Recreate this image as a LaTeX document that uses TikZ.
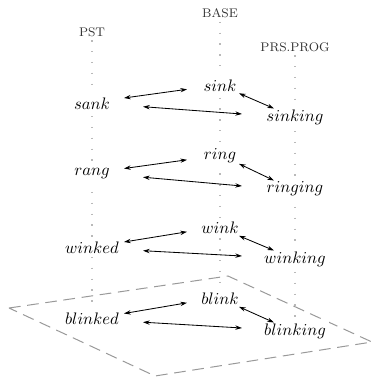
\documentclass[tikz,border=0pt]{standalone}
\usetikzlibrary{calc,arrows.meta,backgrounds}
\tikzset{
  word/.style={fill=white,inner sep=2pt},
  head/.style={font=\fontsize{7.5}{9}\selectfont,text=black!80,inner sep=2pt},
  guide/.style={draw=gray!55,line width=0.8pt,dash pattern=on 0.8pt off 5.7pt},
  plane/.style={draw=gray!80,line width=0.6pt,dash pattern=on 7pt off 4pt},
  link/.style={line width=0.5pt,{Stealth[length=4pt,width=2.6pt]}-{Stealth[length=4pt,width=2.6pt]}}
}
\begin{document}
\begin{tikzpicture}[x=0.6pt,y=-0.6pt]
\useasboundingbox (0,0) rectangle (373,377);

% column headings
\node[head] (pst)  at (92,32)   {PST};
\node[head] (base) at (220,13.5) {BASE};
\node[head] (prs)  at (295,47)  {PRS.PROG};

% the four verb paradigms
\node[word] (sank)     at (92,103.5)  {$sank$};
\node[word] (sink)     at (220,85.5)  {$sink$};
\node[word] (sinking)  at (295,117)   {$sinking$};

\node[word] (rang)     at (92,174)    {$rang$};
\node[word] (ring)     at (220,156)   {$ring$};
\node[word] (ringing)  at (295,189)   {$ringing$};

\node[word] (winked)   at (92,247.5)  {$winked$};
\node[word] (wink)     at (220,228)   {$wink$};
\node[word] (winking)  at (295,259)   {$winking$};

\node[word] (blinked)  at (92,319)    {$blinked$};
\node[word] (blink)    at (220,299)   {$blink$};
\node[word] (blinking) at (295,331)   {$blinking$};

\begin{pgfonlayer}{background}
  % vertical guides of the three columns
  \draw[guide] (pst)  -- (blinked);
  \draw[guide] (base) -- (blink);
  \draw[guide] (prs)  -- (blinking);
  % the plane under the last paradigm
  \coordinate (pl) at (9,308);
  \coordinate (pt) at (228,276);
  \coordinate (pr) at (372,342);
  \coordinate (pb) at (155,376);
  \draw[plane] (pl) -- (pt) -- (pr) -- (pb) -- cycle;
\end{pgfonlayer}

% links between the forms of each verb
\foreach \p/\b/\g in {sank/sink/sinking, rang/ring/ringing, winked/wink/winking, blinked/blink/blinking}{
  \draw[link] ($(\p)+(32,-5.5)$) -- ($(\b)+(-33,3.8)$);
  \draw[link] ($(\p)+(51,3.2)$)  -- ($(\g)+(-53,-3)$);
  \draw[link] ($(\b)+(19,7.8)$)  -- ($(\g)+(-21,-8.5)$);
}
\end{tikzpicture}
\end{document}
